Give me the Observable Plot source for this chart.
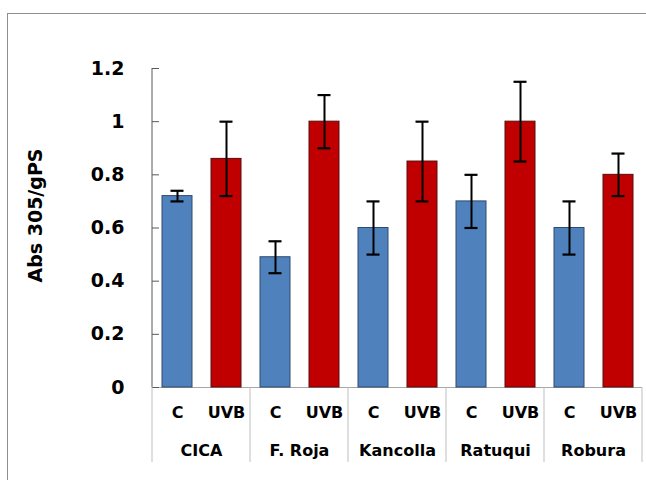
<!DOCTYPE html>
<html>
<head>
<meta charset="utf-8">
<script src="https://cdn.jsdelivr.net/npm/d3@7"></script>
<script src="https://cdn.jsdelivr.net/npm/@observablehq/plot@0.6"></script>
<style>
  html, body { margin: 0; padding: 0; background: #fff; overflow: hidden; }
  #wrap { position: relative; width: 646px; height: 480px; }
  #wrap svg { position: absolute; left: 0; top: 0; }
  #border {
    position: absolute; left: 7px; top: 13px; width: 700px; height: 520px;
    border-left: 1.5px solid #8f8f8f; border-top: 1.5px solid #8f8f8f;
    pointer-events: none;
  }
</style>
</head>
<body>
<div id="wrap"><div id="border"></div></div>
<script>
// Genotypes (outer category) and treatments (inner category)
const genotypes = ["CICA", "F. Roja", "Kancolla", "Ratuqui", "Robura"];
const treatments = ["C", "UVB"];

// Absorbance at 305 nm per g fresh weight, with error bars
const controlMean = [0.72, 0.49, 0.60, 0.70, 0.60];
const controlErr  = [0.02, 0.06, 0.10, 0.10, 0.10];
const uvbMean     = [0.86, 1.00, 0.85, 1.00, 0.80];
const uvbErr      = [0.14, 0.10, 0.15, 0.15, 0.08];

// Y axis tick values and title
const yTicks = [0, 0.2, 0.4, 0.6, 0.8, 1, 1.2];
const yTitle = "Abs 305/gPS";

const fills   = { C: "#4F81BD", UVB: "#C00000" };
const strokes = { C: "#2E4A6E", UVB: "#5A0A0A" };

const rows = genotypes.flatMap((g, i) => [
  { genotype: g, treatment: "C",   mean: controlMean[i], err: controlErr[i] },
  { genotype: g, treatment: "UVB", mean: uvbMean[i],     err: uvbErr[i] }
]);

const font = "DejaVu Sans";

const plot = Plot.plot({
  width: 646,
  height: 480,
  marginLeft: 150,
  marginRight: 3,
  marginTop: 68,
  marginBottom: 93,
  style: { fontFamily: font, fontWeight: "bold", color: "#000", background: "transparent" },
  fx: { domain: genotypes, padding: 0, label: null, axis: null },
  x: { domain: treatments, paddingInner: 0.39, paddingOuter: 0.195, label: null, axis: null },
  y: { domain: [0, 1.2], label: null, axis: null },
  marks: [
    Plot.ruleY([0], { stroke: "#a6a6a6", strokeWidth: 1 }),
    Plot.barY(rows, {
      fx: "genotype", x: "treatment", y: "mean",
      fill: d => fills[d.treatment], stroke: d => strokes[d.treatment], strokeWidth: 1
    }),
    Plot.ruleX(rows, {
      fx: "genotype", x: "treatment",
      y1: d => d.mean - d.err, y2: d => d.mean + d.err,
      stroke: "#000", strokeWidth: 2
    }),
    Plot.tickY(rows, {
      fx: "genotype", x: "treatment", y: d => d.mean - d.err,
      stroke: "#000", strokeWidth: 2.2, insetLeft: 8.5, insetRight: 8.5
    }),
    Plot.tickY(rows, {
      fx: "genotype", x: "treatment", y: d => d.mean + d.err,
      stroke: "#000", strokeWidth: 2.2, insetLeft: 8.5, insetRight: 8.5
    }),
    Plot.axisY({
      ticks: yTicks, tickFormat: d => String(d),
      tickSize: -7, tickPadding: 35, fontSize: 19, stroke: "#595959", label: null
    }),
    Plot.axisX({ anchor: "bottom", tickSize: 0, tickPadding: 19, fontSize: 16 }),
    Plot.axisFx({ anchor: "bottom", tickSize: 0, tickPadding: 57, fontSize: 16, label: null })
  ]
});

document.getElementById("wrap").insertBefore(plot, document.getElementById("border"));

// Multi-level category axis: vertical axis line, group separators and title
const fx = plot.scale("fx");
const y = plot.scale("y");
const svg = d3.select(plot);
const left = fx.apply(genotypes[0]);
svg.append("line")
  .attr("x1", left).attr("x2", left)
  .attr("y1", y.apply(0)).attr("y2", y.apply(1.2))
  .attr("stroke", "#595959").attr("stroke-width", 1);
const edges = genotypes.map(g => fx.apply(g)).concat([fx.apply(genotypes[genotypes.length - 1]) + fx.bandwidth]);
svg.append("g").selectAll("line").data(edges).join("line")
  .attr("x1", d => d).attr("x2", d => d)
  .attr("y1", y.apply(0)).attr("y2", y.apply(0) + 75)
  .attr("stroke", "#bfbfbf").attr("stroke-width", 1);
svg.append("text")
  .attr("transform", `translate(42,${(y.apply(0) + y.apply(1.2)) / 2 - 12}) rotate(-90)`)
  .attr("text-anchor", "middle")
  .attr("font-family", font).attr("font-weight", "bold").attr("font-size", 19)
  .attr("fill", "#000")
  .text(yTitle);
</script>
</body>
</html>
